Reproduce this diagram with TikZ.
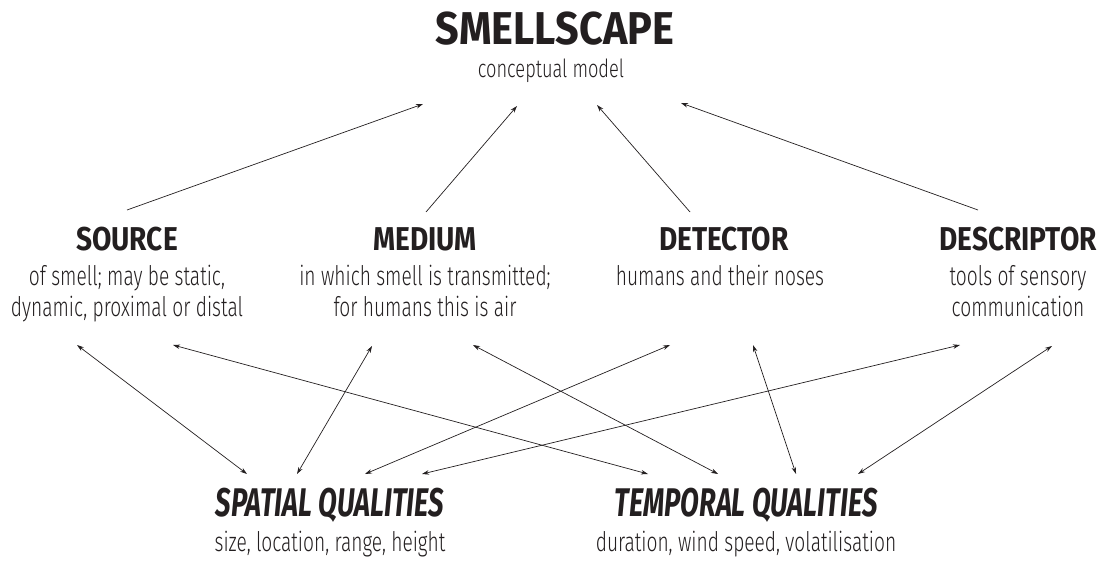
\documentclass[tikz,border=0pt]{standalone}
\usepackage{fontspec}
\usepackage{tikz}
\usetikzlibrary{arrows.meta}
\newfontfamily\bigfont{Fira Sans}[FakeStretch=0.9]
\newfontfamily\headfont{Fira Sans}[FakeStretch=0.85]
\newfontfamily\qualfont{Fira Sans}[FakeStretch=0.685]
\newfontfamily\thinfont{Fira Sans Light}[FakeStretch=0.71]
\newfontfamily\modelfont{Fira Sans Light}[FakeStretch=0.73]
\definecolor{ink}{HTML}{231F20}

\begin{document}
\begin{tikzpicture}[x=1pt,y=-1pt,
    maintitle/.style={inner sep=0pt, anchor=base, text=ink, font=\bigfont\bfseries\fontsize{46}{46}\selectfont},
    blocktitle/.style={inner sep=0pt, anchor=base, text=ink, font=\headfont\bfseries\fontsize{33}{33}\selectfont},
    qualtitle/.style={inner sep=0pt, anchor=base, text=ink, font=\qualfont\bfseries\itshape\fontsize{40}{40}\selectfont},
    blocktext/.style={inner sep=0pt, anchor=base, align=center, text=ink, font=\thinfont\fontsize{27}{31}\selectfont},
    modeltext/.style={inner sep=0pt, anchor=base, text=ink, font=\modelfont\fontsize{25}{25}\selectfont},
    toarrow/.style={draw=ink, line width=0.7pt, -{Stealth[length=7pt,width=4.5pt]}},
    botharrow/.style={draw=ink, line width=0.7pt, {Stealth[length=7pt,width=4.5pt]}-{Stealth[length=7pt,width=4.5pt]}}]
    \useasboundingbox (0,0) rectangle (1105,561);

    % model
    \node[maintitle] (smell) at (555,45) {SMELLSCAPE};
    \node[modeltext] (model) at (551,78) {conceptual model};

    % four components (base of a two-line text is its last line)
    \node[blocktitle] (src) at (127,251) {SOURCE};
    \node[blocktext] (srctext) at (127,316) {of smell; may be static,\\dynamic, proximal or distal};
    \node[blocktitle] (med) at (425,251) {MEDIUM};
    \node[blocktext] (medtext) at (425,316) {in which smell is transmitted;\\for humans this is air};
    \node[blocktitle] (det) at (724,251) {DETECTOR};
    \node[blocktext] (dettext) at (720,285) {humans and their noses};
    \node[blocktitle] (des) at (1018,251) {DESCRIPTOR};
    \node[blocktext] (destext) at (1018,316) {tools of sensory\\communication};

    % qualities
    \node[qualtitle] (spat) at (330,516) {SPATIAL QUALITIES};
    \node[blocktext] (spattext) at (330,551) {size, location, range, height};
    \node[qualtitle] (temp) at (746,516) {TEMPORAL QUALITIES};
    \node[blocktext] (temptext) at (746,551) {duration, wind speed, volatilisation};

    % up to the model
    \draw[toarrow] ([shift={(0,-41)}]src.base) -- ([shift={(-128,26)}]model.base); \draw[toarrow] ([shift={(1,-39)}]med.base) -- ([shift={(-34,28)}]model.base);
    \draw[toarrow] ([shift={(-34,-39)}]det.base) -- ([shift={(46,27)}]model.base); \draw[toarrow] ([shift={(-40,-41)}]des.base) -- ([shift={(130,25)}]model.base);

    % components and qualities
    \draw[botharrow] ([shift={(-50,94)}]src.base) -- ([shift={(-83,-42)}]spat.base); \draw[botharrow] ([shift={(46,94)}]src.base) -- ([shift={(-98,-42)}]temp.base);
    \draw[botharrow] ([shift={(-53,95)}]med.base) -- ([shift={(-33,-42)}]spat.base); \draw[botharrow] ([shift={(48,94)}]med.base) -- ([shift={(-28,-42)}]temp.base);
    \draw[botharrow] ([shift={(-54,94)}]det.base) -- ([shift={(35,-42)}]spat.base); \draw[botharrow] ([shift={(29,94)}]det.base) -- ([shift={(50,-42)}]temp.base);
    \draw[botharrow] ([shift={(-58,94)}]des.base) -- ([shift={(92,-42)}]spat.base); \draw[botharrow] ([shift={(34,95)}]des.base) -- ([shift={(112,-42)}]temp.base);
\end{tikzpicture}
\end{document}
